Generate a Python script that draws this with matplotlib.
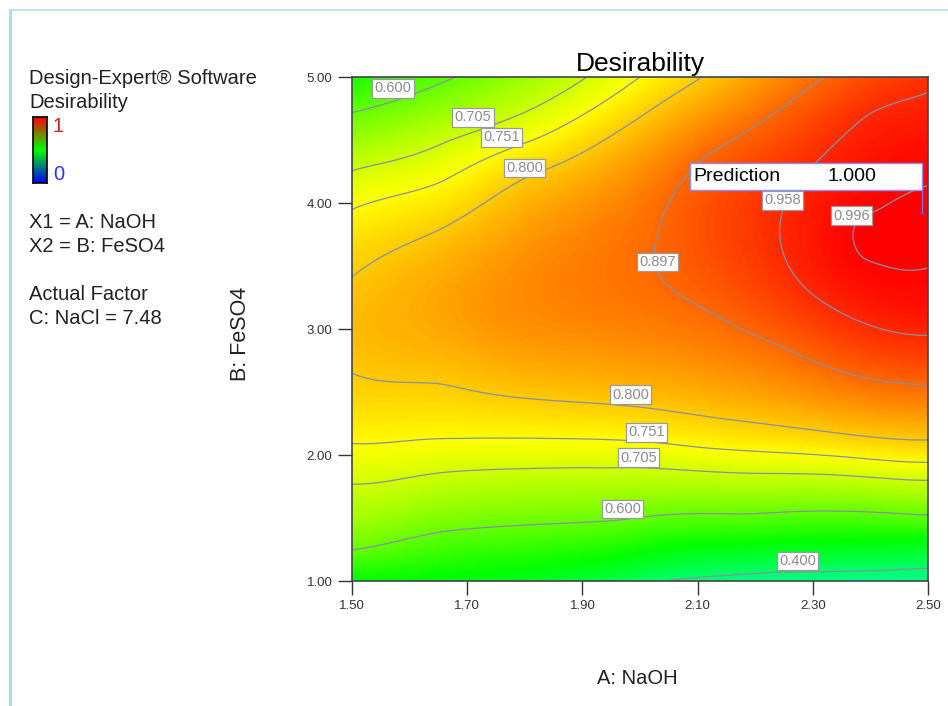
import numpy as np
import matplotlib.pyplot as plt
from matplotlib.colors import LinearSegmentedColormap
from matplotlib.patches import Rectangle

plt.rcParams['font.family'] = ['Liberation Sans', 'DejaVu Sans']

# desirability read along the edges and contour lines (A: NaOH, B: FeSO4)
naoh = [1.5, 1.5, 1.5, 1.5, 1.5, 1.5, 1.5, 1.5, 1.5, 1.5, 1.5,
        1.68, 1.908, 2.0, 2.108, 2.32, 2.5,
        2.5, 2.5, 2.5, 2.5, 2.5, 2.5, 2.5, 2.5, 2.5, 2.5, 2.5, 2.5, 2.5, 2.5,
        1.67, 1.653, 1.826, 1.653, 1.80, 2.0,
        2.104, 2.03, 2.026, 2.035, 2.116, 2.248,
        2.40, 2.31, 2.248, 2.243, 2.29,
        2.417, 2.368, 2.382, 2.417,
        1.653, 2.0, 1.69, 1.861, 2.104, 1.653, 1.884, 2.0,
        1.653, 1.962, 2.186, 2.04, 2.23, 2.0, 1.75, 2.3, 1.75]
feso4 = [4.72, 4.26, 3.95, 3.41, 2.65, 2.09, 1.77, 1.24, 3.0, 5.0, 1.0,
         5.0, 5.0, 5.0, 5.0, 5.0, 5.0,
         1.11, 1.52, 1.80, 1.94, 2.12, 2.56, 2.95, 3.50, 4.14, 4.87, 3.82, 4.5, 3.2, 1.0,
         4.5, 4.16, 4.52, 3.79, 4.20, 4.68,
         4.34, 3.73, 3.53, 3.41, 3.15, 2.86,
         4.72, 4.34, 3.94, 3.73, 3.31,
         3.94, 3.81, 3.57, 3.52,
         2.57, 2.38, 2.13, 2.13, 2.06, 1.86, 1.90, 1.90,
         1.39, 1.48, 1.53, 1.0, 1.07, 1.0, 1.0, 3.78, 3.1]
desir = [0.600, 0.705, 0.751, 0.800, 0.800, 0.751, 0.705, 0.600, 0.815, 0.53, 0.50,
         0.600, 0.705, 0.751, 0.800, 0.897, 0.950,
         0.400, 0.600, 0.705, 0.751, 0.800, 0.897, 0.958, 0.996, 0.996, 0.958, 1.000,
         0.982, 0.985, 0.37,
         0.705, 0.751, 0.751, 0.800, 0.800, 0.800,
         0.897, 0.897, 0.897, 0.897, 0.897, 0.897,
         0.958, 0.958, 0.958, 0.958, 0.958,
         0.996, 0.996, 0.996, 0.996,
         0.800, 0.800, 0.751, 0.751, 0.751, 0.705, 0.705, 0.705,
         0.600, 0.600, 0.600, 0.400, 0.400, 0.42, 0.48, 0.975, 0.855]

levels = [0.400, 0.600, 0.705, 0.751, 0.800, 0.897, 0.958, 0.996]
a_ticks = [1.50, 1.70, 1.90, 2.10, 2.30, 2.50]
b_ticks = [1.00, 2.00, 3.00, 4.00, 5.00]
pred_a, pred_b, pred_d = 2.49, 3.92, 1.000
nacl = 7.48

# where each contour value is written: (level, A, B)
label_spots = [(0.600, 1.571, 4.91), (0.705, 1.71, 4.68), (0.751, 1.76, 4.52),
               (0.800, 1.80, 4.28), (0.897, 2.03, 3.53), (0.958, 2.247, 4.02),
               (0.996, 2.368, 3.90), (0.800, 1.984, 2.48), (0.751, 2.012, 2.18),
               (0.705, 1.997, 1.98), (0.600, 1.97, 1.57), (0.400, 2.274, 1.16)]


def coded(a, b):
    return (np.asarray(a) - 2.0) / 0.5, (np.asarray(b) - 3.0) / 2.0


def tps_kernel(r):
    with np.errstate(divide='ignore', invalid='ignore'):
        k = r ** 2 * np.log(r)
    return np.nan_to_num(k)


# smoothed thin-plate spline surface through the read values
px, py = coded(naoh, feso4)
n = len(px)
K = tps_kernel(np.hypot(px[:, None] - px[None, :], py[:, None] - py[None, :]))
K += 4e-3 * np.eye(n)
P = np.column_stack([np.ones(n), px, py])
M = np.block([[K, P], [P.T, np.zeros((3, 3))]])
sol = np.linalg.solve(M, np.concatenate([desir, np.zeros(3)]))
w, c = sol[:n], sol[n:]

ga, gb = np.meshgrid(np.linspace(1.5, 2.5, 300), np.linspace(1.0, 5.0, 300))
gx, gy = coded(ga, gb)
dist = np.hypot(gx[..., None] - px, gy[..., None] - py)
gd = tps_kernel(dist) @ w + c[0] + c[1] * gx + c[2] * gy
gd = np.clip(gd, 0, 1)

surf_cmap = LinearSegmentedColormap.from_list(
    'desir', ['#0000ff', '#00ffff', '#00ff00', '#ffff00', '#ff0000'])
key_cmap = LinearSegmentedColormap.from_list('key', ['#0000ff', '#00ff00', '#ff0000'])

fig = plt.figure(figsize=(9.48, 7.06), dpi=100)
ax = fig.add_axes([352 / 948, 1 - 581 / 706, 576 / 948, 504 / 706])

ax.imshow(gd, extent=(1.5, 2.5, 1.0, 5.0), origin='lower', aspect='auto',
          cmap=surf_cmap, vmin=0, vmax=1, interpolation='bilinear')
ax.contour(ga, gb, gd, levels=levels, colors='#8a90a0', linewidths=0.9)

for lev, la, lb in label_spots:
    ax.text(la, lb, f'{lev:.3f}', fontsize=10.5, color='#8c8c8c', ha='center', va='center',
            bbox=dict(boxstyle='square,pad=0.15', facecolor='white', edgecolor='#9a9a9a',
                      linewidth=0.9), zorder=5)

# prediction flag at the optimum
ax.add_patch(Rectangle((pred_a - 0.403, pred_b + 0.18), 0.403, 0.22, facecolor='white',
                       edgecolor='#8c8cff', linewidth=1.0, zorder=6))
ax.text(pred_a - 0.397, pred_b + 0.29, 'Prediction', fontsize=14, va='center', zorder=7)
ax.text(pred_a - 0.08, pred_b + 0.29, f'{pred_d:.3f}', fontsize=14, va='center',
        ha='right', zorder=7)
ax.plot([pred_a, pred_a], [pred_b + 0.18, pred_b], color='#7070ff', linewidth=1.0, zorder=6)
ax.plot(pred_a, pred_b, marker='.', color='#5050ff', markersize=3, zorder=6)

ax.set_xlim(1.5, 2.5)
ax.set_ylim(1.0, 5.0)
ax.set_xticks(a_ticks)
ax.set_xticklabels([f'{t:.2f}' for t in a_ticks])
ax.set_yticks(b_ticks)
ax.set_yticklabels([f'{t:.2f}' for t in b_ticks])
ax.tick_params(direction='out', length=10, width=1, labelsize=9.5, colors='#333333', pad=4)
for sp in ax.spines.values():
    sp.set_color('#444444')
    sp.set_linewidth(1.2)

ax.set_title('Desirability', fontsize=19, pad=4)
fig.text(637 / 948, 1 - 678 / 706, 'A: NaOH', fontsize=14.5, ha='center', va='center',
         color='#222222')
fig.text(241 / 948, 1 - 334 / 706, 'B: FeSO4', fontsize=15.5, ha='center', va='center',
         rotation=90, color='#222222')

# side legend
left = 29 / 948
fs = 14.5
fig.text(left, 1 - 78 / 706, 'Design-Expert® Software', fontsize=fs, va='center', color='#222222')
fig.text(left, 1 - 102 / 706, 'Desirability', fontsize=fs, va='center', color='#222222')
kax = fig.add_axes([33 / 948, 1 - 183 / 706, 14 / 948, 66 / 706])
kax.imshow(np.linspace(0, 1, 100)[:, None], origin='lower', aspect='auto', cmap=key_cmap,
           extent=(0, 1, 0, 1))
kax.set_xticks([])
kax.set_yticks([])
for sp in kax.spines.values():
    sp.set_linewidth(1.2)
fig.text(53 / 948, 1 - 127 / 706, '1', fontsize=fs, color='#d02020', va='center')
fig.text(53 / 948, 1 - 174 / 706, '0', fontsize=fs, color='#3030ff', va='center')
fig.text(left, 1 - 222 / 706, 'X1 = A: NaOH', fontsize=fs, va='center', color='#222222')
fig.text(left, 1 - 246 / 706, 'X2 = B: FeSO4', fontsize=fs, va='center', color='#222222')
fig.text(left, 1 - 295 / 706, 'Actual Factor', fontsize=fs, va='center', color='#222222')
fig.text(left, 1 - 319 / 706, f'C: NaCl = {nacl:.2f}', fontsize=fs, va='center', color='#222222')

# frame lines at the top and left of the page
fig.add_artist(plt.Line2D([10 / 948, 1], [1 - 10 / 706] * 2, color='#b0dcea', linewidth=1.2))
fig.add_artist(plt.Line2D([10 / 948] * 2, [0, 1 - 10 / 706], color='#b0dcea', linewidth=2.2))

fig.savefig('out.png', dpi=100)
